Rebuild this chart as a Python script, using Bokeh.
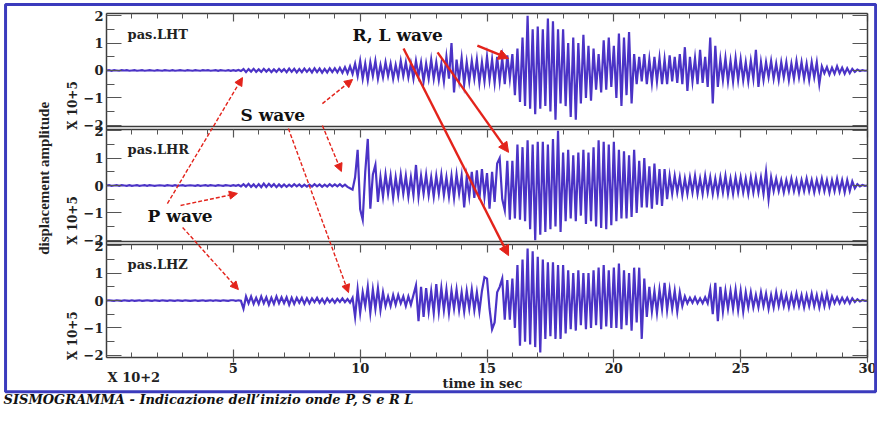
import math
import numpy as np
from bokeh.plotting import figure
from bokeh.models import LinearAxis, FixedTicker, Label, Arrow, NormalHead, BoxAnnotation, Range1d
from bokeh.embed import file_html
from bokeh.resources import INLINE

# ---------------- data (sampled every 0.1 time units, x 10+2 sec) ----------------
DT = 0.1
stations = ["pas.LHT", "pas.LHR", "pas.LHZ"]

lht = [
    0, 0.01, -0.01, 0.01, 0, -0.01, 0.01, 0, 0.01, -0.01,
    0, 0.01, -0.01, 0, 0.01, -0.01, 0, 0.01, 0, -0.01,
    0.01, 0, -0.01, 0.01, 0, -0.01, 0.01, -0.01, 0, 0.01,
    0, -0.01, 0.01, 0, -0.01, 0.01, 0, -0.01, 0.01, 0,
    0.01, -0.01, 0, 0.01, -0.01, 0.01, 0, -0.01, 0.01, -0.01,
    0.01, -0.01, 0.02, -0.02, 0.05, -0.06, 0.05, -0.04, 0.06, -0.05,
    0.04, -0.05, 0.06, -0.04, 0.05, -0.06, 0.04, -0.05, 0.06, -0.04,
    0.05, -0.06, 0.07, -0.05, 0.06, -0.07, 0.05, -0.06, 0.07, -0.05,
    0.06, -0.07, 0.08, -0.06, 0.07, -0.08, 0.06, -0.07, 0.08, -0.06,
    0.08, -0.07, 0.1, -0.08, 0.12, -0.1, 0.15, -0.12, 0.25, -0.2,
    0.35, -0.3, 0.25, -0.35, 0.3, -0.2, 0.35, -0.3, 0.2, -0.25,
    0.3, -0.2, 0.25, -0.3, 0.2, -0.25, 0.35, -0.2, 0.3, -0.25,
    0.25, -0.3, 0.35, -0.2, 0.3, -0.4, 0.25, -0.3, 0.4, -0.3,
    0.3, -0.35, 0.25, -0.4, 0.5, -0.3, 1.0, -0.8, 0.4, -0.35,
    0.45, -0.5, 0.3, -0.4, 0.35, -0.3, 0.4, -0.45, 0.3, -0.4,
    0.5, -0.35, 0.4, -0.45, 0.5, -0.4, 0.45, -0.5, 0.55, -0.3,
    0.6, -0.9, 0.8, -1.15, 1.2, -1.3, 2.0, -1.4, 1.5, -1.6,
    1.6, -1.4, 1.5, -1.3, 1.9, -1.5, 1.8, -1.8, 1.5, -1.2,
    1.5, -1.3, 1.0, -1.7, 1.2, -1.8, 1.0, -1.2, 1.3, -1.0,
    0.9, -1.1, 0.8, -0.7, 0.6, -0.8, 1.1, -0.7, 1.2, -0.6,
    0.9, -1.0, 1.35, -1.3, 1.2, -0.9, 1.4, -1.2, 0.6, -0.5,
    0.5, -0.4, 0.6, -0.5, 0.4, -0.45, 0.5, -0.4, 0.45, -0.5,
    0.4, -0.5, 0.55, -0.4, 0.5, -0.45, 0.6, -0.5, 0.85, -0.75,
    0.5, -0.4, 0.45, -0.5, 0.75, -0.45, 0.5, -0.6, 1.2, -1.2,
    0.9, -0.6, 0.4, -0.35, 0.45, -0.4, 0.35, -0.4, 0.45, -0.35,
    0.4, -0.35, 0.3, -0.4, 0.35, -0.3, 0.75, -0.6, 0.3, -0.35,
    0.3, -0.25, 0.35, -0.3, 0.25, -0.35, 0.3, -0.25, 0.3, -0.35,
    0.25, -0.3, 0.35, -0.25, 0.3, -0.3, 0.25, -0.35, 0.3, -0.25,
    0.3, -0.5, 0.15, -0.1, 0.12, -0.15, 0.1, -0.12, 0.15, -0.1,
    0.1, -0.12, 0.08, -0.1, 0.06, -0.05, 0.03, -0.02, 0.01, -0.01,
    0,
]

lhr = [
    0, 0.01, -0.01, 0, 0.01, -0.01, 0.01, 0, -0.01, 0.01,
    -0.01, 0, 0.01, -0.01, 0, 0.01, -0.01, 0.01, 0, -0.01,
    0, 0.01, 0, -0.01, 0.01, 0, -0.01, 0.01, -0.01, 0,
    0.01, -0.01, 0, 0.01, 0, -0.01, 0.01, -0.01, 0, 0.01,
    -0.01, 0.01, 0, -0.01, 0.01, 0, -0.01, 0.01, 0, -0.01,
    0.01, -0.01, 0.02, -0.03, 0.05, -0.04, 0.06, -0.05, 0.04, -0.06,
    0.05, -0.06, 0.07, -0.05, 0.06, -0.04, 0.05, -0.06, 0.04, -0.05,
    0.04, -0.05, 0.03, -0.04, 0.05, -0.03, 0.04, -0.05, 0.03, -0.04,
    0.03, -0.04, 0.05, -0.03, 0.04, -0.05, 0.03, -0.04, 0.05, -0.03,
    0.04, -0.03, 0.05, -0.04, 0.03, -0.05, -0.1, -0.15, 0.3, 1.3,
    -0.87, -1.25, 0.5, 1.7, -0.85, 0.4, 0.75, -0.6, 0.3, -0.4,
    0.4, -0.3, 0.35, -0.45, 0.3, -0.35, 0.4, -0.3, 0.35, -0.4,
    0.3, -0.35, 0.75, -0.4, 0.35, -0.3, 0.4, -0.35, 0.3, -0.4,
    0.35, -0.3, 0.4, -0.35, 0.3, -0.4, 0.35, -0.45, 0.4, -0.3,
    0.35, -0.8, 0.3, -0.4, 0.5, -0.45, 0.55, -0.5, 0.6, -0.4,
    0.45, -0.85, 0.5, -0.6, 0.8, 1.0, -0.5, -0.9, 0.9, -1.25,
    0.9, -1.2, 1.5, -1.25, 1.4, -1.3, 1.65, -1.6, 1.5, -2.0,
    1.6, -1.8, 1.6, -1.7, 1.5, -1.6, 1.7, -1.5, 2.0, -1.7,
    1.2, -1.3, 1.3, -1.2, 1.1, -1.3, 1.2, -1.1, 1.3, -1.4,
    1.2, -1.3, 1.4, -1.5, 1.65, -1.55, 1.6, -1.6, 1.5, -1.45,
    1.6, -1.3, 1.3, -1.2, 1.25, -1.2, 1.1, -1.15, 1.3, -1.0,
    0.9, -0.8, 1.0, -0.8, 0.7, -0.85, 0.8, -0.7, 0.6, -0.75,
    0.6, -0.5, 0.35, -0.3, 0.35, -0.25, 0.3, -0.35, 0.25, -0.3,
    0.3, -0.25, 0.35, -0.3, 0.25, -0.3, 0.35, -0.25, 0.3, -0.3,
    0.25, -0.3, 0.3, -0.25, 0.35, -0.3, 0.25, -0.3, 0.3, -0.25,
    0.3, -0.25, 0.25, -0.3, 0.3, -0.25, 0.3, -0.25, 0.3, -0.3,
    0.5, -0.5, 0.3, -0.2, 0.25, -0.2, 0.2, -0.25, 0.2, -0.2,
    0.25, -0.2, 0.2, -0.25, 0.2, -0.2, 0.25, -0.2, 0.2, -0.25,
    0.2, -0.2, 0.25, -0.2, 0.2, -0.25, 0.2, -0.2, 0.25, -0.2,
    0.2, -0.25, 0.2, -0.2, 0.15, -0.1, 0.05, -0.03, 0.02, -0.01,
    0,
]

lhz = [
    0, 0.01, 0, -0.01, 0.01, 0, -0.01, 0.01, 0, -0.01,
    0.01, -0.01, 0, 0.01, -0.01, 0, 0.01, 0, -0.01, 0.01,
    0, -0.01, 0.01, 0, -0.01, 0.01, 0, -0.01, 0.01, 0,
    -0.01, 0.01, 0, -0.01, 0, 0.01, -0.01, 0, 0.01, -0.01,
    0, 0.01, -0.01, 0.01, 0, -0.01, 0.01, 0, -0.01, 0.01,
    0.01, -0.01, 0.01, -0.01, -0.3, 0.15, -0.1, 0.15, -0.12, 0.1,
    -0.12, 0.15, -0.1, 0.12, -0.15, 0.1, -0.12, 0.15, -0.1, 0.12,
    -0.1, 0.12, -0.15, 0.1, -0.12, 0.1, -0.08, 0.1, -0.12, 0.08,
    -0.1, 0.08, -0.06, 0.1, -0.08, 0.06, -0.1, 0.08, -0.06, 0.05,
    -0.08, 0.06, -0.05, 0.08, -0.06, 0.05, -0.08, 0.1, -0.6, 0.4,
    -0.45, 0.3, -0.2, 0.5, -0.45, 0.4, -0.3, 0.45, -0.35, 0.3,
    -0.2, 0.15, -0.2, 0.2, -0.15, 0.2, -0.1, 0.15, -0.2, 0.15,
    -0.15, 0.2, 0.55, -0.75, 0.5, -0.6, 0.45, -0.4, 0.35, -0.45,
    0.6, -0.4, 0.45, -0.35, 0.4, -0.45, 0.35, -0.3, 0.4, -0.35,
    0.3, -0.4, 0.35, -0.3, 0.4, -0.35, 0.3, -0.4, 0.35, 0.85,
    0.8, -0.3, -1.05, -0.8, 0.3, 0.5, 0.8, -0.7, 0.75, -0.7,
    0.8, -1.0, 1.3, -1.65, 1.5, -1.5, 1.9, -1.6, 1.8, -1.7,
    1.6, -1.9, 1.5, -1.4, 1.4, -1.3, 1.4, -1.4, 1.3, -1.4,
    1.3, -1.2, 1.1, -1.05, 1.0, -1.1, 1.1, -0.9, 1.0, -1.05,
    1.0, -1.0, 1.1, -0.9, 1.2, -1.05, 1.3, -0.95, 1.1, -1.0,
    1.2, -1.0, 1.35, -1.05, 1.1, -0.9, 1.0, -1.1, 1.2, -0.8,
    1.2, -1.4, 0.8, -0.6, 0.5, -0.4, 0.35, -0.45, 0.4, -0.3,
    0.65, -0.35, 0.4, -0.3, 0.35, -0.4, 0.3, -0.2, 0.15, -0.1,
    0.1, -0.08, 0.12, -0.1, 0.08, -0.1, 0.12, -0.1, 0.4, -0.5,
    0.65, -0.75, 0.5, -0.4, 0.35, -0.3, 0.35, -0.3, 0.4, -0.35,
    0.35, -0.4, 0.3, -0.25, 0.3, -0.25, 0.2, -0.25, 0.3, -0.2,
    0.25, -0.3, 0.2, -0.25, 0.3, -0.2, 0.25, -0.2, 0.2, -0.25,
    0.2, -0.2, 0.25, -0.2, 0.2, -0.25, 0.2, -0.2, 0.25, -0.2,
    0.2, -0.25, 0.2, -0.2, 0.25, -0.2, 0.15, -0.1, 0.12, -0.1,
    0.1, -0.08, 0.1, -0.1, 0.08, -0.05, 0.05, -0.03, 0.02, -0.01,
    0,
]

traces = [lht, lhr, lhz]
offsets = [8.4, 4.2, 0.0]          # stacking of the three panels
PANEL_HALF = 2.08
x_major = [5, 10, 15, 20, 25, 30]
x_minor = list(range(0, 31))
y_major_vals = [-2, -1, 0, 1, 2]
y_minor_vals = [-1.5, -0.5, 0.5, 1.5]

# annotation arrows: (tail x, tail y) -> (head x, head y) in plot units
p_arrows = [((2.40, 3.54), (5.36, 8.14)), ((2.92, 3.47), (5.16, 3.91)), ((3.00, 2.67), (5.20, 0.40))]
s_arrows = [((8.51, 7.19), (9.70, 8.07)), ((8.51, 6.39), (9.26, 4.71)), ((7.17, 6.28), (9.54, 0.29))]
rl_arrows = [((14.62, 9.31), (15.85, 8.84)), ((13.05, 9.06), (15.85, 5.41)), ((11.71, 9.20), (15.85, 1.64))]

# ---------------- styling ----------------
TRACE = "#4b33c6"
RED = "#e3231b"
AX = "#3c3c3c"
TICKF = "DejaVu Serif"

Y_LO, Y_HI = -PANEL_HALF, offsets[0] + PANEL_HALF

p = figure(width=877, height=406, output_backend="svg", toolbar_location=None,
           x_range=Range1d(-4.179, 30.394), y_range=Range1d(-3.869, 10.955),
           x_axis_location=None, y_axis_location=None,
           min_border=0)
p.background_fill_color = "white"
p.border_fill_color = "white"
p.outline_line_color = None
p.grid.visible = False

# y ticks for the stacked panels
yt, ylab = [], {}
for off in offsets:
    for v in y_major_vals:
        tv = round(off + v, 3)
        yt.append(tv)
        ylab[tv] = str(v).replace("-", "\u2212")
ym = [round(off + v, 3) for off in offsets for v in y_minor_vals]


def style_axis(ax, labels=True, tin=15, tmin=8, tout=0, mout=0):
    ax.axis_line_color = AX
    ax.axis_line_width = 1.5
    ax.major_tick_line_color = "#555555"
    ax.minor_tick_line_color = "#555555"
    ax.major_tick_line_width = 1.2
    ax.minor_tick_line_width = 1.0
    ax.major_tick_in = tin
    ax.major_tick_out = tout
    ax.minor_tick_in = tmin
    ax.minor_tick_out = mout
    if labels:
        ax.major_label_text_font = TICKF
        ax.major_label_text_font_style = "bold"
        ax.major_label_text_font_size = "13px"
        ax.major_label_text_color = "#222222"
    else:
        ax.major_label_text_color = None
        ax.major_label_standoff = 0


left = LinearAxis(ticker=FixedTicker(ticks=yt, minor_ticks=ym), major_label_overrides=ylab,
                  fixed_location=0, bounds=(Y_LO, Y_HI))
style_axis(left)
left.major_label_standoff = 3
p.add_layout(left, "left")

right = LinearAxis(ticker=FixedTicker(ticks=yt, minor_ticks=ym), fixed_location=30, bounds=(Y_LO, Y_HI))
style_axis(right, labels=False)
p.add_layout(right, "right")

bottom = LinearAxis(ticker=FixedTicker(ticks=x_major, minor_ticks=x_minor),
                    axis_label="time  in  sec", fixed_location=Y_LO, bounds=(0, 30))
style_axis(bottom, tin=8, tmin=5, tout=5)
bottom.major_label_standoff = 0
bottom.axis_label_text_font = TICKF
bottom.axis_label_text_font_style = "bold"
bottom.axis_label_text_font_size = "13px"
bottom.axis_label_text_color = "#222222"
bottom.axis_label_standoff = 0
p.add_layout(bottom, "below")

top = LinearAxis(ticker=FixedTicker(ticks=x_major, minor_ticks=x_minor), fixed_location=Y_HI, bounds=(0, 30))
style_axis(top, labels=False, tin=8, tmin=5)
p.add_layout(top, "above")

# inner panel borders: top of panels 2 and 3 (ticks pointing down), bottom of panels 1 and 2
for off in offsets[1:]:
    a = LinearAxis(ticker=FixedTicker(ticks=x_major, minor_ticks=x_minor),
                   fixed_location=off + 2.05, bounds=(0, 30))
    style_axis(a, labels=False, tin=8, tmin=5)
    p.add_layout(a, "above")
for off in offsets[:2]:
    b = LinearAxis(ticker=FixedTicker(ticks=[], minor_ticks=[]), fixed_location=off - 2.05, bounds=(0, 30))
    style_axis(b, labels=False, tin=0, tmin=0)
    p.add_layout(b, "below")

# traces
for vals, off in zip(traces, offsets):
    y = np.array(vals, dtype=float) + off
    t = np.arange(len(vals)) * DT
    p.line(t, y, line_color=TRACE, line_width=2.2, line_join="miter")

# station names and "X 10+5" labels
for name, off in zip(stations, offsets):
    p.add_layout(Label(x=0.83, y=off + 1.33, text=name, text_font=TICKF, text_font_style="bold",
                       text_font_size="13px", text_color="#222222", text_baseline="middle"))
    p.add_layout(Label(x=-1.34, y=off - 1.28, text="X 10+5", angle=math.pi / 2, text_font=TICKF,
                       text_font_style="bold", text_font_size="12px", text_color="#222222",
                       text_align="center", text_baseline="middle"))

p.add_layout(Label(x=-2.48, y=4.46, text="displacement amplitude", angle=math.pi / 2,
                   text_font="Liberation Serif", text_font_style="bold", text_font_size="15px",
                   text_color="#222222", text_align="center", text_baseline="middle"))
p.add_layout(Label(x=0.04, y=-2.80, text="X  10+2", text_font=TICKF, text_font_style="bold",
                   text_font_size="13px", text_color="#222222", text_baseline="middle"))

# wave annotations
for txt, x, y in [("R, L wave", 9.70, 9.68), ("S  wave", 5.28, 6.76), ("P  wave", 1.62, 3.07)]:
    p.add_layout(Label(x=x, y=y, text=txt, text_font=TICKF, text_font_style="bold",
                       text_font_size="17px", text_color="#111111", text_baseline="middle"))

for (x0, y0), (x1, y1) in p_arrows + s_arrows:
    p.add_layout(Arrow(end=NormalHead(size=8, fill_color=RED, line_color=RED, line_width=1),
                       x_start=x0, y_start=y0, x_end=x1, y_end=y1,
                       line_color=RED, line_width=1.4, line_dash="4 2"))
for (x0, y0), (x1, y1) in rl_arrows:
    p.add_layout(Arrow(end=NormalHead(size=10, fill_color=RED, line_color=RED, line_width=1),
                       x_start=x0, y_start=y0, x_end=x1, y_end=y1,
                       line_color=RED, line_width=2.4))

# blue frame and caption
p.add_layout(BoxAnnotation(left=-3.98, right=30.32, top=10.81, bottom=-3.33,
                           fill_alpha=0, line_color="#3b3bbd", line_alpha=1.0, line_width=3))
p.add_layout(Label(x=-4.06, y=-3.869, text="SISMOGRAMMA - Indicazione dell\u2019inizio onde P, S e R L",
                   text_font=TICKF, text_font_style="bold italic", text_font_size="13px",
                   text_color="#111111", text_baseline="bottom"))

open("out.html", "w").write(file_html(p, INLINE))
